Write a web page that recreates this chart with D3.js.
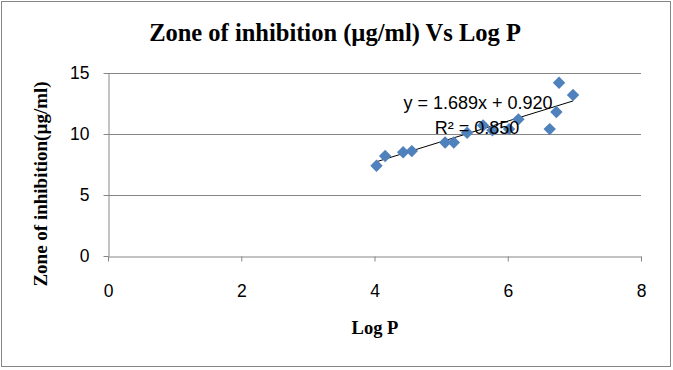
<!DOCTYPE html>
<html><head><meta charset="utf-8">
<script src="https://cdn.jsdelivr.net/npm/d3@7"></script>
<style>body{margin:0;background:#fff}</style>
</head><body>
<script>
const logP = [4.03, 4.16, 4.43, 4.56, 5.06, 5.19, 5.39, 5.63, 5.77, 6.02, 6.16, 6.63, 6.73, 6.77, 6.98];
const zone = [7.4, 8.2, 8.5, 8.6, 9.3, 9.3, 10.1, 10.7, 10.3, 10.4, 11.2, 10.4, 11.8, 14.2, 13.2];
const xTicks = [0, 2, 4, 6, 8];
const yTicks = [0, 5, 10, 15];
const slope = 1.689, intercept = 0.920;
const eqLabel = "y = 1.689x + 0.920";
const r2Label = "R² = 0.850";
const title = "Zone of inhibition (µg/ml) Vs Log P";
const xTitle = "Log P";
const yTitle = "Zone of inhibition(µg/ml)";

const W = 673, H = 370;
const svg = d3.select("body").append("svg").attr("width", W).attr("height", H);
svg.append("rect").attr("x", 1.5).attr("y", 1.5).attr("width", 669).attr("height", 365)
  .attr("fill", "#fff").attr("stroke", "#868686").attr("stroke-width", 1);

const x = d3.scaleLinear().domain([0, 8]).range([108, 641]);
const y = d3.scaleLinear().domain([0, 15]).range([256, 73]);

// gridlines
svg.append("g").selectAll("line").data(yTicks.filter(d => d > 0)).join("line")
  .attr("x1", x(0)).attr("x2", x(8))
  .attr("y1", d => Math.round(y(d)) + 0.5).attr("y2", d => Math.round(y(d)) + 0.5)
  .attr("stroke", "#868686");

const axisFont = "'Liberation Sans', Arial, sans-serif";
const xAxis = svg.append("g").attr("transform", `translate(0,${Math.round(y(0)) + 0.5})`)
  .call(d3.axisBottom(x).tickValues(xTicks).tickSize(5).tickSizeOuter(0).tickPadding(23));
const yAxis = svg.append("g").attr("transform", `translate(${Math.round(x(0)) + 0.5},0)`)
  .call(d3.axisLeft(y).tickValues(yTicks).tickSize(5).tickSizeOuter(0).tickPadding(14));
[xAxis, yAxis].forEach(a => {
  a.attr("font-size", 17.5).attr("font-family", axisFont);
  a.select(".domain").attr("stroke", "#868686");
  a.selectAll(".tick line").attr("stroke", "#868686");
  a.selectAll(".tick text").attr("fill", "#000");
});

// trendline
const xmin = d3.min(logP), xmax = d3.max(logP);
svg.append("line")
  .attr("x1", x(xmin)).attr("y1", y(slope * xmin + intercept))
  .attr("x2", x(xmax)).attr("y2", y(slope * xmax + intercept))
  .attr("stroke", "#000").attr("stroke-width", 1);

// points
const diamond = d3.symbol().type(d3.symbolDiamond2).size(98);
svg.append("g").selectAll("path").data(logP.map((v, i) => [v, zone[i]])).join("path")
  .attr("d", diamond)
  .attr("transform", d => `translate(${x(d[0])},${y(d[1])})`)
  .attr("fill", "#4F81BD");

// equation labels
svg.append("text").attr("x", 478).attr("y", 109).attr("text-anchor", "middle")
  .attr("font-family", axisFont).attr("font-size", 18).text(eqLabel);
svg.append("text").attr("x", 477).attr("y", 134).attr("text-anchor", "middle")
  .attr("font-family", axisFont).attr("font-size", 18).text(r2Label);

const serif = "'Liberation Serif', 'Times New Roman', serif";
svg.append("text").attr("x", 335).attr("y", 41).attr("text-anchor", "middle")
  .attr("font-family", serif).attr("font-weight", "bold").attr("font-size", 24.5).text(title);
svg.append("text").attr("x", 375).attr("y", 334).attr("text-anchor", "middle")
  .attr("font-family", serif).attr("font-weight", "bold").attr("font-size", 18.5).text(xTitle);
svg.append("text").attr("transform", "translate(47,184) rotate(-90)").attr("text-anchor", "middle")
  .attr("font-family", serif).attr("font-weight", "bold").attr("font-size", 19).text(yTitle);
</script>
</body></html>
